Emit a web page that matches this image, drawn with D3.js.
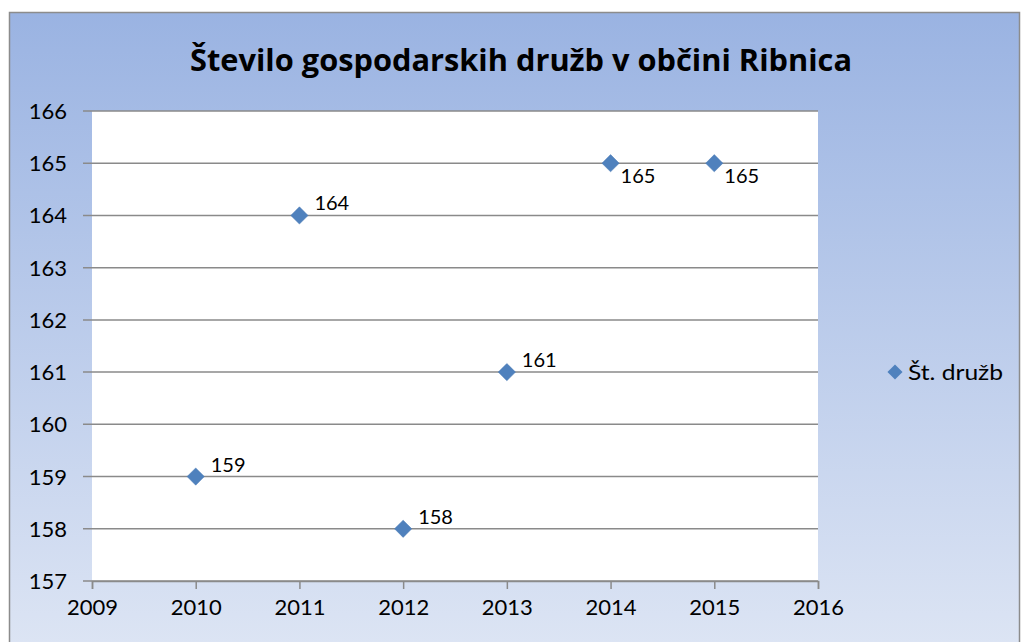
<!DOCTYPE html>
<html>
<head>
<meta charset="utf-8">
<script src="https://cdn.jsdelivr.net/npm/d3@7"></script>
<style>
  body { margin: 0; background: #fff; }
  text { font-family: Lato, "Open Sans", sans-serif; }
</style>
</head>
<body>
<div id="chart"></div>
<script>
const years = [2010, 2011, 2012, 2013, 2014, 2015];
const counts = [159, 164, 158, 161, 165, 165];
const labelPos = ['above', 'above', 'above', 'above', 'below', 'below'];
const yTicks = [157, 158, 159, 160, 161, 162, 163, 164, 165, 166];
const xTicks = [2009, 2010, 2011, 2012, 2013, 2014, 2015, 2016];
const seriesName = 'Št. družb';
const title = 'Število gospodarskih družb v občini Ribnica';

const width = 1021;
const height = 642;

const svg = d3.select('#chart')
  .append('svg')
  .attr('width', width)
  .attr('height', height);

const defs = svg.append('defs');
const grad = defs.append('linearGradient')
  .attr('id', 'bg')
  .attr('x1', 0).attr('y1', 0).attr('x2', 0).attr('y2', 1);
grad.append('stop').attr('offset', '0%').attr('stop-color', '#9ab3e2');
grad.append('stop').attr('offset', '100%').attr('stop-color', '#dde5f4');

// chart frame
svg.append('rect')
  .attr('x', 9.5)
  .attr('y', 12.5)
  .attr('width', 1010)
  .attr('height', 640)
  .attr('fill', 'url(#bg)')
  .attr('stroke', '#8c8c8c')
  .attr('stroke-width', 1.5);

const plot = { left: 92, right: 818, top: 111, bottom: 581 };

const x = d3.scaleLinear()
  .domain([2009, 2016])
  .range([plot.left, plot.right]);

const y = d3.scaleLinear()
  .domain([157, 166])
  .range([plot.bottom, plot.top]);

svg.append('rect')
  .attr('x', plot.left)
  .attr('y', plot.top)
  .attr('width', plot.right - plot.left)
  .attr('height', plot.bottom - plot.top)
  .attr('fill', '#fff');

svg.append('text')
  .attr('x', 521)
  .attr('y', 71)
  .attr('text-anchor', 'middle')
  .style('font-size', '31px')
  .style('font-weight', 'bold')
  .style('font-family', '"Open Sans", sans-serif')
  .attr('textLength', 662)
  .attr('lengthAdjust', 'spacingAndGlyphs')
  .text(title);

// gridlines
svg.append('g')
  .selectAll('line')
  .data(yTicks)
  .join('line')
  .attr('x1', plot.left - 9)
  .attr('x2', plot.right)
  .attr('y1', (d) => y(d))
  .attr('y2', (d) => y(d))
  .attr('stroke', '#8a8a8a')
  .attr('stroke-width', 1.5);

const xAxis = svg.append('g')
  .attr('transform', `translate(0,${plot.bottom})`)
  .call(d3.axisBottom(x).tickValues(xTicks).tickFormat(d3.format('d')).tickSize(8).tickPadding(10));
xAxis.select('.domain').attr('stroke', '#8a8a8a').attr('stroke-width', 1.5);
xAxis.selectAll('.tick line').attr('stroke', '#8a8a8a').attr('stroke-width', 1.5);
xAxis.selectAll('text')
  .style('font-size', '22px')
  .style('font-family', 'Lato, sans-serif')
  .attr('fill', '#000');

svg.append('g')
  .selectAll('text')
  .data(yTicks)
  .join('text')
  .attr('x', 67)
  .attr('y', (d) => y(d) + 8)
  .attr('text-anchor', 'end')
  .style('font-size', '22px')
  .text((d) => d);

const points = years.map((yr, i) => ({ year: yr, value: counts[i], pos: labelPos[i] }));

const diamond = d3.symbol().type(d3.symbolDiamond2).size(190);

svg.append('g')
  .selectAll('path')
  .data(points)
  .join('path')
  .attr('d', diamond)
  .attr('transform', (d) => `translate(${x(d.year)},${y(d.value)})`)
  .attr('fill', '#4f81bd')
  .attr('stroke', '#4a7ab5')
  .attr('stroke-width', 0.5);

svg.append('g')
  .selectAll('text')
  .data(points)
  .join('text')
  .attr('x', (d) => x(d.year) + (d.pos === 'above' ? 15 : 10))
  .attr('y', (d) => y(d.value) + (d.pos === 'above' ? -5 : 20))
  .style('font-size', '20px')
  .text((d) => d.value);

// legend
const legend = svg.append('g').attr('transform', 'translate(895,372)');
legend.append('path')
  .attr('d', d3.symbol().type(d3.symbolDiamond2).size(145))
  .attr('fill', '#4f81bd');
legend.append('text')
  .attr('x', 13)
  .attr('y', 8)
  .style('font-size', '21px')
  .attr('textLength', 95)
  .attr('lengthAdjust', 'spacingAndGlyphs')
  .text(seriesName);
</script>
</body>
</html>
